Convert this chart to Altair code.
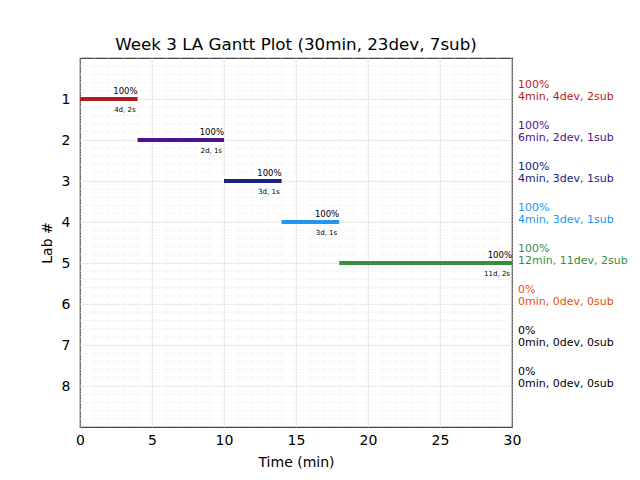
import altair as alt
import pandas as pd

labs = [1, 2, 3, 4, 5, 6, 7, 8]
starts = [0, 4, 10, 14, 18, None, None, None]
ends = [4, 10, 14, 18, 30, None, None, None]
pct = ["100%", "100%", "100%", "100%", "100%", "0%", "0%", "0%"]
small = ["4d, 2s", "2d, 1s", "3d, 1s", "3d, 1s", "11d, 2s", "", "", ""]
summary = ["4min, 4dev, 2sub", "6min, 2dev, 1sub", "4min, 3dev, 1sub",
           "4min, 3dev, 1sub", "12min, 11dev, 2sub", "0min, 0dev, 0sub",
           "0min, 0dev, 0sub", "0min, 0dev, 0sub"]
colors = ["#b71c1c", "#4a148c", "#1a237e", "#2196f3", "#388e3c", "#e65100", "#000000", "#000000"]

x_ticks = [0, 5, 10, 15, 20, 25, 30]
x_minor = list(range(0, 31))
y_minor = [round(i * 0.2, 1) for i in range(0, 46)]

df = pd.DataFrame({"lab": labs, "start": starts, "end": ends, "pct": pct,
                   "small": small, "summary": summary, "color": colors})
bars = df.dropna(subset=["start"])

xs = alt.Scale(domain=[0, 30], nice=False, zero=False)
ys = alt.Scale(domain=[0, 9], reverse=True, nice=False, zero=False)

xmin = alt.Chart(pd.DataFrame({"v": x_minor})).mark_rule(color="#f0f0f0", strokeWidth=0.6).encode(
    x=alt.X("v:Q", scale=xs))
ymin = alt.Chart(pd.DataFrame({"v": y_minor})).mark_rule(color="#f0f0f0", strokeWidth=0.6).encode(
    y=alt.Y("v:Q", scale=ys))

base = alt.Chart(df)

grid_axes = base.mark_point(opacity=0).encode(
    x=alt.X("start:Q", scale=xs, title="Time (min)",
            axis=alt.Axis(values=x_ticks, grid=True, gridColor="#b0b0b0", gridDash=[1, 2],
                          gridWidth=0.8, ticks=False, domain=False, labelFontSize=14,
                          labelFlush=False, labelPadding=6, titleFontSize=14, titlePadding=8,
                          titleFontWeight="normal",
                          labelColor="#000", titleColor="#000", labelFont="DejaVu Sans", titleFont="DejaVu Sans")),
    y=alt.Y("lab:Q", scale=ys, title="Lab #",
            axis=alt.Axis(values=labs, grid=True, gridColor="#b0b0b0", gridDash=[1, 2],
                          gridWidth=0.8, ticks=False, domain=False, labelFontSize=14,
                          labelFlush=False, labelPadding=10, titleFontSize=14, titlePadding=7,
                          titleFontWeight="normal",
                          labelColor="#000", titleColor="#000", labelFont="DejaVu Sans", titleFont="DejaVu Sans")),
)

bar = alt.Chart(bars).mark_rule(strokeWidth=4, strokeCap="butt").encode(
    x=alt.X("start:Q", scale=xs),
    x2="end:Q",
    y=alt.Y("lab:Q", scale=ys),
    color=alt.Color("color:N", scale=None),
)

pct_text = alt.Chart(bars).mark_text(align="right", baseline="bottom", dy=-3, fontSize=8.5,
                                     font="DejaVu Sans", color="#000").encode(
    x=alt.X("end:Q", scale=xs), y=alt.Y("lab:Q", scale=ys), text="pct:N")

small_text = alt.Chart(bars).mark_text(align="right", baseline="middle", dx=-2, dy=11, fontSize=7,
                                       font="DejaVu Sans", color="#000").encode(
    x=alt.X("end:Q", scale=xs), y=alt.Y("lab:Q", scale=ys), text="small:N")

sum1 = base.mark_text(align="left", baseline="middle", dy=-14, fontSize=11, font="DejaVu Sans").encode(
    x=alt.value(438), y=alt.Y("lab:Q", scale=ys), text="pct:N",
    color=alt.Color("color:N", scale=None))
sum2 = base.mark_text(align="left", baseline="middle", dy=-2, fontSize=11, font="DejaVu Sans").encode(
    x=alt.value(438), y=alt.Y("lab:Q", scale=ys), text="summary:N",
    color=alt.Color("color:N", scale=None))

chart = alt.layer(xmin, ymin, grid_axes, bar, pct_text, small_text, sum1, sum2).properties(
    width=432, height=369,
    title=alt.TitleParams("Week 3 LA Gantt Plot (30min, 23dev, 7sub)", fontSize=16.7,
                          fontWeight="normal", font="DejaVu Sans", color="#000", offset=4),
    autosize="none",
    padding={"left": 72, "top": 50, "right": 120, "bottom": 44},
).configure_view(stroke="#000", strokeWidth=1.2)

chart.save("out.html", embed_options={"renderer": "svg", "actions": False})
